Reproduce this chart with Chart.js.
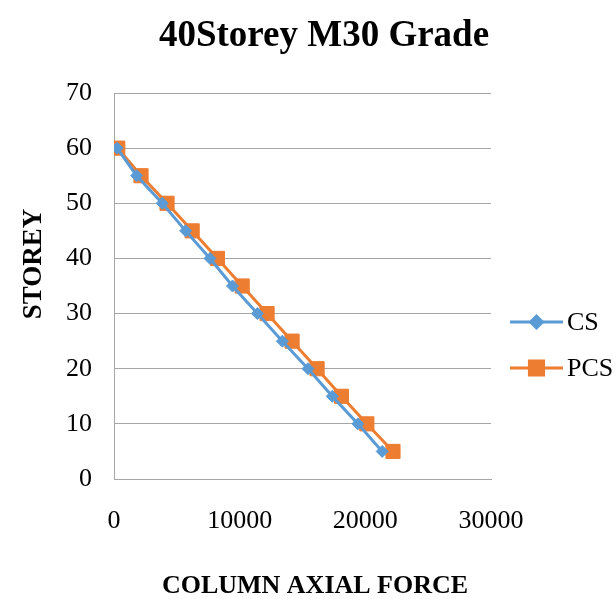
<!DOCTYPE html>
<html>
<head>
<meta charset="utf-8">
<script src="https://cdn.jsdelivr.net/npm/chart.js@4/dist/chart.umd.min.js"></script>
<style>
  html, body { margin: 0; padding: 0; background: #ffffff; }
  #wrap { width: 616px; height: 599px; position: relative; }
</style>
</head>
<body>
<div id="wrap"><canvas id="c" width="616" height="599"></canvas></div>
<script>
// Storey levels and column axial forces
const storeys = [60, 55, 50, 45, 40, 35, 30, 25, 20, 15, 10, 5];
const csForce  = [250, 1800, 3840, 5700, 7640, 9430, 11410, 13400, 15440, 17370, 19410, 21340];
const pcsForce = [300, 2150, 4220, 6220, 8230, 10200, 12180, 14170, 16160, 18100, 20120, 22200];
const seriesNames = ['CS', 'PCS'];
const xTicks = [0, 10000, 20000, 30000];
const yTicks = [0, 10, 20, 30, 40, 50, 60, 70];
const chartTitle = '40Storey M30 Grade';
const xTitle = 'COLUMN AXIAL FORCE';
const yTitle = 'STOREY';

const SERIF = '"Liberation Serif", "Times New Roman", serif';
const BLUE = '#5B9BD5';
const ORANGE = '#ED7D31';
const GRID = '#a6a6a6';

function pairs(xs, ys) { return xs.map((x, i) => ({ x: x, y: ys[i] })); }

// Titles placed over the whole figure, and a legend of line + marker entries
const figureText = {
  id: 'figureText',
  afterDraw(chart) {
    const ctx = chart.ctx;
    ctx.save();
    ctx.fillStyle = '#000000';
    ctx.textAlign = 'center';
    ctx.textBaseline = 'middle';

    ctx.font = 'bold 37px ' + SERIF;
    ctx.fillText(chartTitle, 324, 36);

    ctx.font = 'bold 26px ' + SERIF;
    ctx.fillText(xTitle, 315, 586);

    ctx.save();
    ctx.translate(34, 264);
    ctx.rotate(-Math.PI / 2);
    ctx.font = 'bold 27px ' + SERIF;
    ctx.fillText(yTitle, 0, 0);
    ctx.restore();

    const rows = [322, 368];
    chart.data.datasets.forEach((ds, i) => {
      const y = rows[i];
      ctx.strokeStyle = ds.borderColor;
      ctx.lineWidth = 3;
      ctx.beginPath();
      ctx.moveTo(510, y);
      ctx.lineTo(563, y);
      ctx.stroke();
      Chart.helpers.drawPoint(ctx, {
        pointStyle: ds.pointStyle,
        radius: ds.pointRadius,
        borderWidth: 1,
        rotation: 0
      }, 536.5, y);
      ctx.fillStyle = ds.pointBackgroundColor;
      ctx.strokeStyle = ds.pointBorderColor;
      ctx.lineWidth = 1;
      ctx.fill();
      ctx.fillStyle = '#000000';
      ctx.font = '26px ' + SERIF;
      ctx.textAlign = 'left';
      ctx.fillText(ds.label, 567, y + 1);
    });
    ctx.restore();
  }
};

new Chart(document.getElementById('c'), {
  type: 'scatter',
  data: {
    datasets: [
      {
        label: seriesNames[0],
        data: pairs(csForce, storeys),
        showLine: true,
        borderColor: BLUE,
        backgroundColor: BLUE,
        pointBackgroundColor: BLUE,
        pointBorderColor: BLUE,
        borderWidth: 3,
        pointStyle: 'rectRot',
        pointRadius: 6,
        pointBorderWidth: 1,
        tension: 0
      },
      {
        label: seriesNames[1],
        data: pairs(pcsForce, storeys),
        showLine: true,
        borderColor: ORANGE,
        backgroundColor: ORANGE,
        pointBackgroundColor: ORANGE,
        pointBorderColor: ORANGE,
        borderWidth: 3,
        pointStyle: 'rect',
        pointRadius: 10,
        pointBorderWidth: 1,
        tension: 0
      }
    ]
  },
  options: {
    responsive: false,
    animation: false,
    devicePixelRatio: 1,
    layout: { padding: { left: 0, right: 125, top: 93, bottom: 0 } },
    plugins: {
      legend: { display: false },
      tooltip: { enabled: false },
      title: { display: false }
    },
    scales: {
      x: {
        type: 'linear',
        min: 0,
        max: 30000,
        afterBuildTicks(scale) { scale.ticks = xTicks.map(v => ({ value: v })); },
        afterFit(scale) { scale.height = 120; },
        grid: { display: false, drawTicks: false },
        border: { display: true, color: GRID, width: 1 },
        ticks: {
          color: '#000000',
          font: { family: SERIF, size: 26 },
          padding: 27,
          maxRotation: 0,
          callback: v => String(v)
        },
        title: { display: false }
      },
      y: {
        type: 'linear',
        min: 0,
        max: 70,
        afterBuildTicks(scale) { scale.ticks = yTicks.map(v => ({ value: v })); },
        afterFit(scale) { scale.width = 114; },
        grid: { display: true, color: GRID, lineWidth: 1, drawTicks: false },
        border: { display: true, color: GRID, width: 1 },
        ticks: {
          color: '#000000',
          font: { family: SERIF, size: 26 },
          padding: 22
        },
        title: { display: false }
      }
    }
  },
  plugins: [figureText]
});
</script>
</body>
</html>
